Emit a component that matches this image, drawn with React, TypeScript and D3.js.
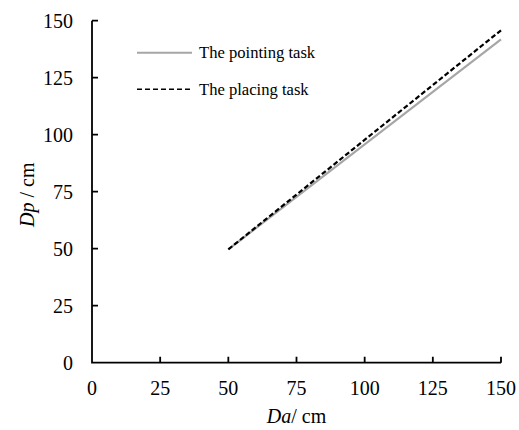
import React from "react";
import * as d3 from "d3";

// Distance perceived (Dp) against actual distance (Da), fitted lines
const daValues = [50, 150];
const pointingDp = [49.7, 141.8];
const placingDp = [49.7, 145.8];

const xTicks = [0, 25, 50, 75, 100, 125, 150];
const yTicks = [0, 25, 50, 75, 100, 125, 150];

const seriesNames = ["The pointing task", "The placing task"];

const W = 519;
const H = 430;
const FONT = "'Liberation Serif', 'Times New Roman', serif";
const TICK = 6;

export default function App() {
  const x = d3.scaleLinear().domain([0, 150]).range([92, 501]);
  const y = d3.scaleLinear().domain([0, 150]).range([362.7, 20.7]);

  const line = d3
    .line<[number, number]>()
    .x((d) => x(d[0]))
    .y((d) => y(d[1]));

  const pointingPts: [number, number][] = daValues.map((d, i) => [d, pointingDp[i]]);
  const placingPts: [number, number][] = daValues.map((d, i) => [d, placingDp[i]]);

  const x0 = x(0);
  const y0 = y(0);

  // axis lines plus inward tick marks
  const axisPath = d3.path();
  axisPath.moveTo(x0, y(150));
  axisPath.lineTo(x0, y0);
  axisPath.lineTo(x(150), y0);
  xTicks.filter((t) => t !== 0).forEach((t) => {
    axisPath.moveTo(x(t), y0);
    axisPath.lineTo(x(t), y0 - TICK);
  });
  yTicks.filter((t) => t !== 0).forEach((t) => {
    axisPath.moveTo(x0, y(t));
    axisPath.lineTo(x0 + TICK, y(t));
  });

  return (
    <svg
      width={W}
      height={H}
      viewBox={`0 0 ${W} ${H}`}
      style={{ position: "absolute", left: 0, top: 0, background: "#fff" }}
      fontFamily={FONT}
    >
      <rect width={W} height={H} fill="#fff" />

      <path d={axisPath.toString()} fill="none" stroke="#000" strokeWidth={1.8} />

      {xTicks.map((t) => (
        <text key={`xt${t}`} x={x(t)} y={395} textAnchor="middle" fontSize={20} fill="#000">
          {t}
        </text>
      ))}

      {yTicks.map((t) => (
        <text
          key={`yt${t}`}
          x={73}
          y={y(t)}
          dy="0.34em"
          textAnchor="end"
          fontSize={20}
          fill="#000"
        >
          {t}
        </text>
      ))}

      {/* axis titles */}
      <text x={x(75)} y={423} textAnchor="middle" fontSize={20} fill="#000">
        <tspan fontStyle="italic">Da</tspan>
        <tspan>/ cm</tspan>
      </text>
      <text
        transform={`translate(34, ${(y(0) + y(150)) / 2 + 3}) rotate(-90)`}
        textAnchor="middle"
        fontSize={20}
        fill="#000"
      >
        <tspan fontStyle="italic">Dp</tspan>
        <tspan> / cm</tspan>
      </text>

      {/* series */}
      <path d={line(pointingPts) || ""} fill="none" stroke="#a6a6a6" strokeWidth={2.2} />
      <path
        d={line(placingPts) || ""}
        fill="none"
        stroke="#000"
        strokeWidth={2.2}
        strokeDasharray="5 2.5"
      />

      {/* legend */}
      <line x1={137} x2={192} y1={52.7} y2={52.7} stroke="#a6a6a6" strokeWidth={2} />
      <text x={199} y={58} fontSize={16.6} fill="#000">
        {seriesNames[0]}
      </text>
      <line
        x1={137}
        x2={192}
        y1={89.3}
        y2={89.3}
        stroke="#000"
        strokeWidth={1.6}
        strokeDasharray="5 3"
      />
      <text x={199} y={94.5} fontSize={16.6} fill="#000">
        {seriesNames[1]}
      </text>
    </svg>
  );
}
